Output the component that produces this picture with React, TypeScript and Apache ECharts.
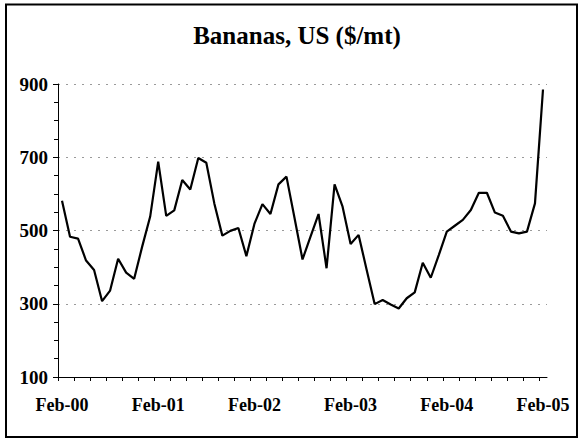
import React, { useEffect, useRef } from "react";
import * as echarts from "echarts";

// Monthly prices, Feb-2000 .. Feb-2005 (61 months)
const months: string[] = [
  "Feb-00","Mar-00","Apr-00","May-00","Jun-00","Jul-00","Aug-00","Sep-00","Oct-00","Nov-00","Dec-00","Jan-01",
  "Feb-01","Mar-01","Apr-01","May-01","Jun-01","Jul-01","Aug-01","Sep-01","Oct-01","Nov-01","Dec-01","Jan-02",
  "Feb-02","Mar-02","Apr-02","May-02","Jun-02","Jul-02","Aug-02","Sep-02","Oct-02","Nov-02","Dec-02","Jan-03",
  "Feb-03","Mar-03","Apr-03","May-03","Jun-03","Jul-03","Aug-03","Sep-03","Oct-03","Nov-03","Dec-03","Jan-04",
  "Feb-04","Mar-04","Apr-04","May-04","Jun-04","Jul-04","Aug-04","Sep-04","Oct-04","Nov-04","Dec-04","Jan-05",
  "Feb-05",
];

const prices: number[] = [
  581, 483, 478, 418, 392, 307, 336, 423, 385, 368, 456, 538,
  688, 540, 555, 638, 612, 698, 685, 574, 486, 499, 507, 430,
  518, 572, 545, 626, 647, 535, 421, 483, 545, 397, 626, 565,
  463, 488, 393, 299, 310, 298, 287, 315, 331, 412, 371, 433,
  497, 513, 529, 556, 603, 603, 549, 540, 497, 492, 497, 574,
  885,
];

const xTickLabels: string[] = ["Feb-00", "Feb-01", "Feb-02", "Feb-03", "Feb-04", "Feb-05"];
const yTicks: number[] = [100, 300, 500, 700, 900];
const titleText = "Bananas, US ($/mt)";

const FONT = "Liberation Serif, Times New Roman, serif";

export default function App() {
  const ref = useRef<HTMLDivElement>(null);

  useEffect(() => {
    document.body.style.margin = "0";
    if (!ref.current) return;
    const chart = echarts.init(ref.current, undefined, { renderer: "svg" });

    const data = prices.map((v, i) => [i + 0.5, v]);
    const tickPositions: number[] = [];
    for (let i = 0; i <= months.length - 1; i += 2) tickPositions.push(i);
    const labelPositions: number[] = [];
    const labelMap: Record<string, string> = {};
    months.forEach((m, i) => {
      if (xTickLabels.includes(m)) {
        labelPositions.push(i + 0.5);
        labelMap[String(i + 0.5)] = m;
      }
    });

    chart.setOption({
      animation: false,
      backgroundColor: "#ffffff",
      grid: { left: 58, right: 33, top: 84, bottom: 61, containLabel: false },
      graphic: [
        {
          type: "rect",
          shape: { x: 6, y: 4.5, width: 571, height: 432.5 },
          style: { fill: "none", stroke: "#000", lineWidth: 2 },
          silent: true,
        },
        {
          type: "text",
          x: 297,
          y: 35.5,
          style: {
            text: titleText,
            fontFamily: FONT,
            fontWeight: "bold",
            fontSize: 25,
            fill: "#000",
            textAlign: "center",
            textVerticalAlign: "middle",
          },
        },
      ],
      xAxis: {
        type: "value",
        min: 0,
        max: months.length,
        axisLine: { show: true, lineStyle: { color: "#000", width: 1 } },
        axisTick: {
          show: true,
          length: 4,
          customValues: tickPositions,
          lineStyle: { color: "#000", width: 1 },
        },
        axisLabel: {
          customValues: labelPositions,
          formatter: (v: number) => labelMap[String(v)] ?? "",
          color: "#000",
          fontFamily: FONT,
          fontWeight: "bold",
          fontSize: 18,
          margin: 19,
        },
        splitLine: { show: false },
      },
      yAxis: {
        type: "value",
        min: yTicks[0],
        max: yTicks[yTicks.length - 1],
        interval: 200,
        axisLine: { show: true, lineStyle: { color: "#000", width: 1 } },
        axisTick: { show: true, length: 5, lineStyle: { color: "#000", width: 1 } },
        minorTick: { show: true, splitNumber: 4, length: 4, lineStyle: { color: "#000", width: 1 } },
        axisLabel: {
          color: "#000",
          fontFamily: FONT,
          fontWeight: "bold",
          fontSize: 19,
          margin: 10,
        },
        splitLine: {
          show: true,
          lineStyle: { color: "#9a9a9a", width: 1, type: [2, 6] },
        },
      },
      series: [
        {
          type: "line",
          data,
          showSymbol: false,
          symbol: "none",
          lineStyle: { color: "#000", width: 2.2 },
        },
      ],
    });

    return () => chart.dispose();
  }, []);

  return <div ref={ref} style={{ width: 580, height: 438 }} />;
}
